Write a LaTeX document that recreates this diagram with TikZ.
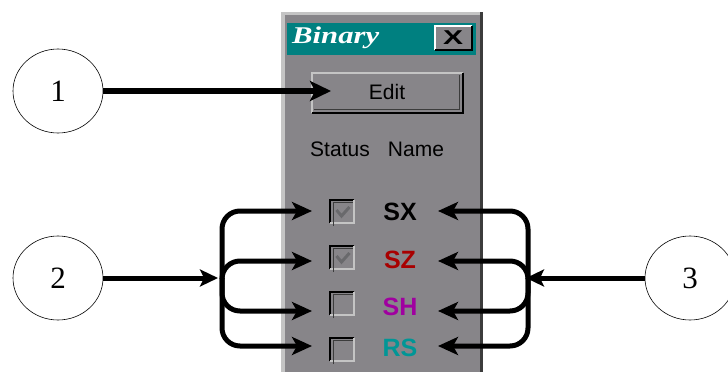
\documentclass[tikz,border=0pt]{standalone}
\usepackage{fontspec}
\setmainfont{Liberation Serif}
\newfontfamily\uifont{Liberation Sans}
\usetikzlibrary{arrows.meta,shapes.geometric}

\definecolor{winface}{RGB}{135,133,137}
\definecolor{wintitle}{RGB}{0,128,128}
\definecolor{winlight}{RGB}{196,196,196}
\definecolor{windark}{RGB}{60,60,60}
\definecolor{namered}{RGB}{168,0,0}
\definecolor{namepurple}{RGB}{160,0,160}
\definecolor{nameteal}{RGB}{0,150,150}
\definecolor{checkgray}{RGB}{105,105,108}

\tikzset{
  callout/.style={draw=black, line width=0.6pt, ellipse, minimum width=90pt,
    minimum height=84pt, inner sep=0pt, font=\fontsize{31}{31}\selectfont},
  uitext/.style={inner sep=0pt, font=\uifont\fontsize{21}{21}\selectfont},
  nametext/.style={inner sep=0pt, font=\uifont\bfseries\fontsize{25}{25}\selectfont},
  cbox/.style={minimum size=24pt, inner sep=0pt, fill=winface},
  pointer/.style={line width=5.5pt, -{Stealth[length=21pt,width=20pt,inset=5pt]}},
  feeder/.style={line width=5pt, -{Stealth[length=18pt,width=17pt,inset=4pt]}},
  branch/.style={line width=5pt, rounded corners=18pt,
    -{Stealth[length=20pt,width=18pt,inset=5pt]}},
  check/.style={checkgray, line width=3pt}
}

\begin{document}
\begin{tikzpicture}[x=1pt,y=-1pt]
\useasboundingbox (0,0) rectangle (728,372);

% window body and frame
\fill[winface] (281,12) rectangle (483,372);
\fill[winlight] (281,12) rectangle (285,372);
\fill[winlight] (281,12) rectangle (483,15);
\fill[windark] (480,12) rectangle (483,372);

% title bar
\fill[wintitle] (287,23) rectangle (476,55);
\node[anchor=base west, inner sep=0pt, text=white,
  font=\fontsize{24}{24}\selectfont\bfseries\itshape] (title) at (292,43)
  {\scalebox{1.28}[1]{Binary}};

% close button
\node[minimum width=38pt, minimum height=25pt, inner sep=0pt, fill=winface] (close) at (453,37.5) {};
\draw[white, line width=2pt] ([xshift=1pt]close.south west) |- ([yshift=-1pt]close.north east);
\draw[black, line width=2pt] ([yshift=-1pt]close.north east) |- ([xshift=1pt]close.south west);
\node[inner sep=0pt, font=\uifont\bfseries\fontsize{20}{20}\selectfont] (closex) at (close.center)
  {\scalebox{1.5}[1]{X}};

% Edit button
\node[minimum width=152pt, minimum height=41pt, inner sep=0pt, fill=winface] (edit) at (387,92.5) {};
\draw[winlight, line width=2pt] ([xshift=1pt]edit.south west) |- ([yshift=-1pt]edit.north east);
\draw[black, line width=2.5pt] ([yshift=-1pt]edit.north east) |- ([xshift=1pt]edit.south west);
\draw[windark, line width=1.5pt] ([shift={(-3.5pt,-3pt)}]edit.north east) |- ([shift={(3pt,3.5pt)}]edit.south west);
\node[uitext] (editlbl) at (387,92) {Edit};

% column headings
\node[uitext] (hstatus) at (340,149) {Status};
\node[uitext] (hname) at (416,149) {Name};

% status check boxes
\foreach \nm/\yy in {SX/212,SZ/258,SH/304,RS/350}{
  \node[cbox] (cb\nm) at (342.5,\yy) {};
  \draw[black, line width=2pt] ([yshift=1pt]cb\nm.south west) |- ([xshift=-1pt]cb\nm.north east);
  \draw[winlight, line width=2pt] ([xshift=-1pt]cb\nm.north east) |- ([yshift=1pt]cb\nm.south west);
  \draw[windark, line width=1.2pt] ([shift={(3pt,-2pt)}]cb\nm.south west) |- ([shift={(-2pt,-3pt)}]cb\nm.north east);
}
\draw[check] ([shift={(-6pt,2pt)}]cbSX.center) -- ([shift={(-1pt,-4pt)}]cbSX.center) -- ([shift={(7pt,5pt)}]cbSX.center);
\draw[check] ([shift={(-6pt,2pt)}]cbSZ.center) -- ([shift={(-1pt,-4pt)}]cbSZ.center) -- ([shift={(7pt,5pt)}]cbSZ.center);

% variable names
\node[nametext, text=black] (nSX) at (400,212) {SX};
\node[nametext, text=namered] (nSZ) at (400,260) {SZ};
\node[nametext, text=namepurple] (nSH) at (400,307) {SH};
\node[nametext, text=nameteal] (nRS) at (400,348) {RS};

% numbered callouts
\node[callout] (c1) at (58,91) {1};
\node[callout] (c2) at (58,278) {2};
\node[callout] (c3) at (690,278) {3};

% arrow ends and branch junctions
\coordinate (editIn) at (331,91);
\coordinate (jl) at (222,278);
\coordinate (jr) at (528,278);
\coordinate (inSX) at (312,211);
\coordinate (inSZ) at (312,261);
\coordinate (inSH) at (312,311);
\coordinate (inRS) at (312,346);
\coordinate (outSX) at (438,211);
\coordinate (outSZ) at (438,261);
\coordinate (outSH) at (438,311);
\coordinate (outRS) at (438,346);

% connectors
\draw[pointer] (c1) -- (editIn);
\draw[feeder, shorten >=4pt] (c2) -- (jl);
\draw[feeder, shorten >=-2pt] (c3) -- (jr);
\foreach \nm in {SX,SZ,SH,RS}{
  \draw[branch] (jl) |- (in\nm);
  \draw[branch] (jr) |- (out\nm);
}
\end{tikzpicture}
\end{document}
